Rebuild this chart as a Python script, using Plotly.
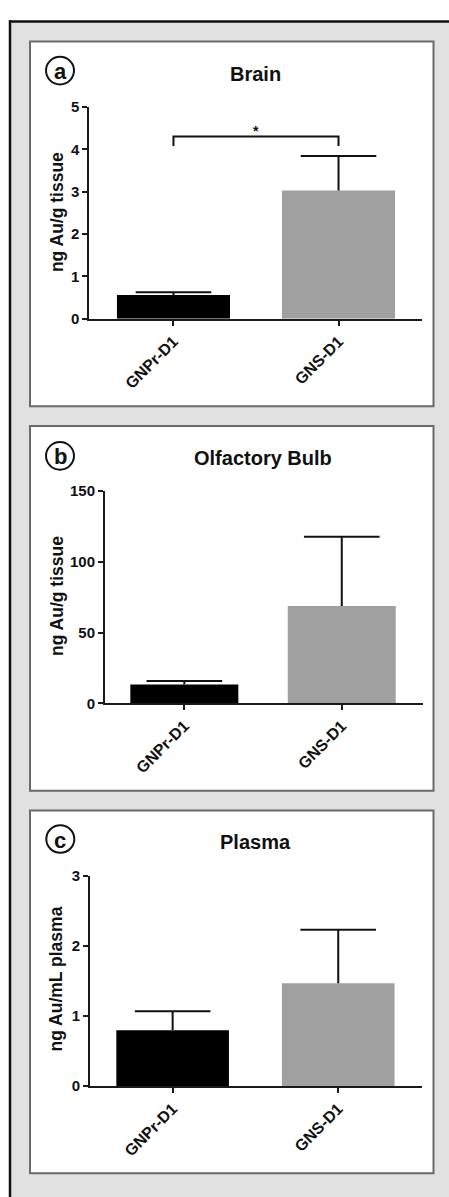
import plotly.graph_objects as go

W, H = 449, 1197

categories = ["GNPr-D1", "GNS-D1"]
bar_colors = ["#000000", "#a0a0a0"]

brain_mean = [0.565, 3.03]
brain_sem = [0.065, 0.81]
bulb_mean = [13.2, 68.7]
bulb_sem = [2.5, 49.0]
plasma_mean = [0.796, 1.466]
plasma_sem = [0.27, 0.763]

panel_titles = ["Brain", "Olfactory Bulb", "Plasma"]
panel_letters = ["a", "b", "c"]
y_titles = ["ng Au/g tissue", "ng Au/g tissue", "ng Au/mL plasma"]
y_ticks = [[0, 1, 2, 3, 4, 5], [0, 50, 100, 150], [0, 1, 2, 3]]
y_ranges = [[0, 5], [0, 150], [0, 3]]

FONT = "Liberation Sans, Arial, sans-serif"


def px(x):
    return x / W


def py(y):
    return 1 - y / H


geom = [
    dict(x0=89.3, x1=421.7, y0=314.3, ytop=99.3, xr=[-0.51, 1.504], bw=0.685,
         box=(30, 33, 433.5, 403), title=(255.5, 66.3), letter=(60, 62.5), ytitle=(57, 206)),
    dict(x0=105, x1=423.3, y0=704.3, ytop=489, xr=[-0.504, 1.518], bw=0.686,
         box=(30, 423, 433.5, 793), title=(263.3, 455.7), letter=(60, 453.3), ytitle=(56.5, 596)),
    dict(x0=90, x1=421.7, y0=1092.7, ytop=879, xr=[-0.499, 1.504], bw=0.68,
         box=(30, 813, 433.5, 1181), title=(255.3, 845), letter=(60.3, 842), ytitle=(56.5, 984)),
]

means = [brain_mean, bulb_mean, plasma_mean]
sems = [brain_sem, bulb_sem, plasma_sem]

fig = go.Figure()
shapes = []
annotations = []

shapes.append(dict(type="rect", xref="paper", yref="paper", x0=px(10), x1=px(460), y0=py(12.7), y1=py(1210),
                   fillcolor="#e1e1e1", line=dict(width=0), layer="below"))
shapes.append(dict(type="line", xref="paper", yref="paper", x0=px(9), x1=px(460), y0=py(12.7), y1=py(12.7),
                   line=dict(color="#111111", width=2.5), layer="below"))
shapes.append(dict(type="line", xref="paper", yref="paper", x0=px(10), x1=px(10), y0=py(11.5), y1=py(1210),
                   line=dict(color="#111111", width=2.5), layer="below"))

for i, g in enumerate(geom):
    xa = "x" if i == 0 else f"x{i+1}"
    ya = "y" if i == 0 else f"y{i+1}"
    bx0, by0, bx1, by1 = g["box"]
    shapes.append(dict(type="rect", xref="paper", yref="paper", x0=px(bx0), x1=px(bx1), y0=py(by1), y1=py(by0),
                       fillcolor="white", line=dict(color="#6a6a6a", width=2), layer="below"))

    fig.add_trace(go.Bar(
        x=categories, y=means[i], xaxis=xa, yaxis=ya, width=g["bw"],
        marker=dict(color=bar_colors, line=dict(width=0)),
        showlegend=False, hoverinfo="skip",
    ))
    tops = [m + s for m, s in zip(means[i], sems[i])]
    fig.add_trace(go.Scatter(
        x=categories, y=tops, xaxis=xa, yaxis=ya, mode="markers",
        marker=dict(symbol="line-ew", size=54, line=dict(color="#111111", width=2)),
        error_y=dict(type="data", array=[0, 0], arrayminus=sems[i], symmetric=False,
                     color="#111111", thickness=2, width=0),
        showlegend=False, hoverinfo="skip",
    ))

    xkey = "xaxis" if i == 0 else f"xaxis{i+1}"
    ykey = "yaxis" if i == 0 else f"yaxis{i+1}"
    fig.update_layout({
        xkey: dict(domain=[px(g["x0"]), px(g["x1"])], anchor=ya, range=g["xr"], type="category",
                   showline=True, linecolor="#1a1a1a", linewidth=2, ticks="outside", ticklen=5,
                   tickwidth=2, tickcolor="#1a1a1a", tickangle=-45, showgrid=False, zeroline=False,
                   tickfont=dict(family=FONT, size=16, color="#111111", weight="bold")),
        ykey: dict(domain=[py(g["y0"]), py(g["ytop"])], anchor=xa, range=y_ranges[i],
                   tickvals=y_ticks[i], showline=True, linecolor="#1a1a1a", linewidth=2,
                   ticks="outside", ticklen=5, tickwidth=2, tickcolor="#1a1a1a", showgrid=False,
                   zeroline=False, tickfont=dict(family=FONT, size=15, color="#111111", weight="bold")),
    })

    annotations.append(dict(text=panel_titles[i], xref="paper", yref="paper", x=px(g["title"][0]),
                            y=py(g["title"][1]), xanchor="center", yanchor="middle", showarrow=False,
                            font=dict(family=FONT, size=20, color="#111111", weight="bold")))
    annotations.append(dict(text=y_titles[i], xref="paper", yref="paper", x=px(g["ytitle"][0]),
                            y=py(g["ytitle"][1]), xanchor="center", yanchor="middle", showarrow=False,
                            textangle=-90,
                            font=dict(family=FONT, size=17.5, color="#111111", weight="bold")))
    lx, ly = g["letter"]
    r = 14
    shapes.append(dict(type="circle", xref="paper", yref="paper", x0=px(lx - r), x1=px(lx + r),
                       y0=py(ly + r), y1=py(ly - r), line=dict(color="#111111", width=2)))
    annotations.append(dict(text=panel_letters[i], xref="paper", yref="paper", x=px(lx), y=py(ly + 1),
                            xanchor="center", yanchor="middle", showarrow=False,
                            font=dict(family=FONT, size=22, color="#111111", weight="bold")))

shapes.append(dict(type="path", xref="x", yref="y",
                   path="M 0,4.08 L 0,4.30 L 1,4.30 L 1,4.08",
                   line=dict(color="#111111", width=2)))
annotations.append(dict(text="*", xref="x", yref="y", x=0.5, y=4.42, xanchor="center", yanchor="middle",
                        showarrow=False, font=dict(family=FONT, size=14, color="#111111", weight="bold")))

fig.update_layout(width=W, height=H, margin=dict(l=0, r=0, t=0, b=0), autosize=False,
                  paper_bgcolor="white", plot_bgcolor="rgba(0,0,0,0)",
                  shapes=shapes, annotations=annotations,
                  font=dict(family=FONT))

fig.write_html("out.html")
